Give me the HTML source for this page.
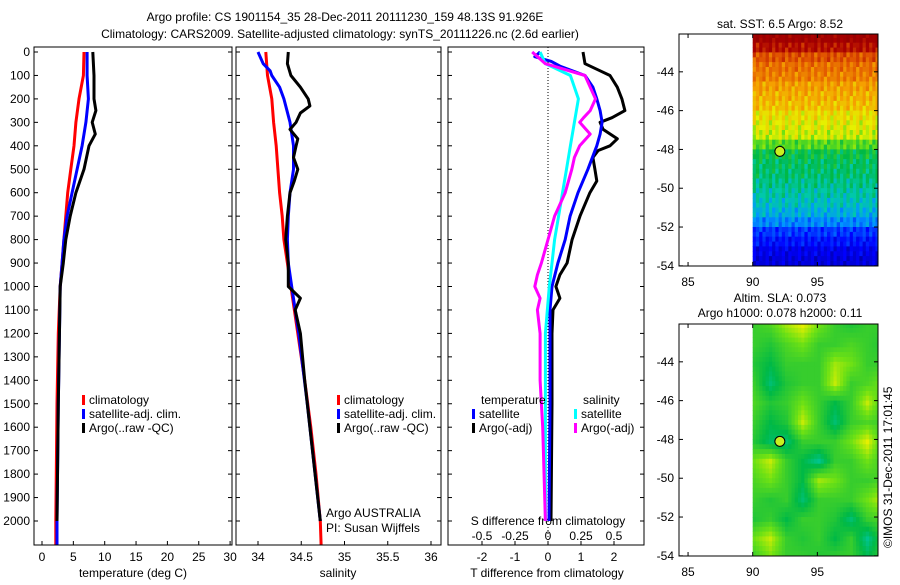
<!DOCTYPE html>
<html><head><meta charset="utf-8"><style>
body{margin:0;background:#fff}
svg text{font-family:"Liberation Sans",sans-serif;font-size:12px;fill:#000}
</style></head><body>
<svg id="s" width="900" height="580" viewBox="0 0 900 580"></svg>
<script>
// ---------- data ----------
const pTicks=[0,100,200,300,400,500,600,700,800,900,1000,1100,1200,1300,1400,1500,1600,1700,1800,1900,2000];
const tTicks=[0,5,10,15,20,25,30];
const sTicks=[34,34.5,35,35.5,36];
const dtTicks=[-2,-1,0,1,2];
const dsTicks=[-0.5,-0.25,0,0.25,0.5];
const dsTickLabels=["-0.5","-0.25","0","0.25","0.5"];

const climTP=[0,100,200,300,400,500,600,700,800,900,1000,1200,1500,2000,2100];
const climT=[6.7,6.6,5.9,5.4,5.1,4.6,4.1,3.8,3.5,3.2,2.9,2.6,2.4,2.2,2.2];
const satTP=[0,100,200,300,400,500,600,700,800,900,1000,1500,2000,2100];
const satT=[7.2,7.2,7.4,7.0,6.4,5.6,4.8,4.0,3.5,3.2,2.9,2.6,2.4,2.4];
const argoTP=[0,100,200,250,300,350,400,500,600,700,800,900,1000,1500,2000];
const argoT=[8.1,8.3,8.3,8.6,8.0,8.5,7.5,6.7,5.4,4.5,3.8,3.4,2.9,2.6,2.4];

const climSP=[0,100,200,300,400,500,600,700,800,900,1000,1200,1400,1600,1800,2000,2100];
const climS=[34.09,34.11,34.16,34.18,34.21,34.23,34.25,34.28,34.3,34.34,34.38,34.46,34.54,34.61,34.67,34.72,34.73];
const satSP=[0,50,80,100,150,200,300,400,500,600,700,800,900,1000,1200,1500,2000];
const satS=[34.0,34.06,34.14,34.16,34.25,34.3,34.37,34.41,34.41,34.37,34.35,34.34,34.35,34.39,34.47,34.57,34.72];
const argoSP=[0,50,100,150,200,230,260,300,330,370,400,450,500,550,600,700,800,900,1000,1050,1100,1200,1400,1600,1800,2000];
const argoS=[34.35,34.34,34.38,34.49,34.58,34.6,34.49,34.44,34.37,34.46,34.44,34.41,34.46,34.42,34.37,34.34,34.32,34.35,34.35,34.49,34.43,34.49,34.54,34.6,34.66,34.72];

const dArgoTP=[0,50,80,100,150,200,250,280,300,330,370,400,420,450,500,550,600,700,800,900,950,1000,1050,1100,1200,1500,2000];
const dArgoT=[1.06,1.12,1.58,1.88,2.1,2.24,2.33,1.94,1.58,1.67,2.1,1.88,1.52,1.36,1.42,1.48,1.27,0.97,0.73,0.58,0.36,0.24,0.36,0.15,0.12,0.12,0.09];
const dSatTP=[0,20,40,60,100,150,200,250,300,350,400,500,600,700,800,900,1000,1100,1500,2000];
const dSatT=[-0.24,-0.4,0.1,0.36,1.12,1.36,1.48,1.58,1.64,1.58,1.48,1.21,0.91,0.67,0.52,0.3,0.12,0.06,0.06,0.03];
const dSatSP=[0,50,100,150,200,300,400,500,600,700,800,900,1000,1200,2000];
const dSatS=[-0.06,-0.02,0.17,0.2,0.23,0.2,0.17,0.14,0.11,0.08,0.05,0.03,0.01,-0.02,-0.02];
const dArgoSP=[0,50,100,150,200,250,280,300,350,400,450,500,600,700,800,900,950,1000,1050,1100,1200,1400,1600,2000];
const dArgoS=[-0.12,-0.02,0.28,0.32,0.36,0.32,0.27,0.24,0.32,0.24,0.2,0.18,0.13,0.05,0,-0.05,-0.08,-0.1,-0.06,-0.08,-0.06,-0.06,-0.04,-0.02];

const lonTicks=[85,90,95];
const latTicks=[-44,-46,-48,-50,-52,-54];
const sstRows=[0.95,0.9,0.82,0.78,0.76,0.72,0.7,0.68,0.64,0.62,0.6,0.52,0.45,0.43,0.42,0.4,0.38,0.36,0.33,0.28,0.2,0.16,0.12,0.1];
const sstNoise=[0,0.03,-0.02,0.04,-0.03,0.01,0.05,-0.04,0.02,-0.01,0.03,-0.05,0.02,0];
const slaGrid=[
[.5,.52,.58,.62,.55,.5,.48,.5,.5],
[.5,.48,.52,.55,.5,.5,.52,.5,.48],
[.48,.45,.5,.5,.5,.58,.55,.5,.5],
[.5,.42,.48,.5,.5,.6,.5,.52,.55],
[.52,.48,.5,.55,.5,.45,.5,.6,.5],
[.5,.45,.48,.6,.5,.42,.5,.52,.5],
[.48,.43,.42,.5,.5,.5,.55,.62,.5],
[.55,.6,.5,.45,.4,.5,.5,.55,.5],
[.52,.55,.5,.45,.58,.55,.5,.5,.52],
[.5,.48,.5,.42,.5,.5,.5,.55,.6],
[.48,.5,.45,.5,.5,.48,.42,.5,.52],
[.55,.6,.5,.48,.5,.45,.5,.4,.5],
[.5,.55,.5,.5,.48,.5,.5,.45,.5]];
const argoPos=[92.1,-48.1];

// ---------- helpers ----------
const S=document.getElementById('s');const NS='http://www.w3.org/2000/svg';
function el(t,a,txt,parent){const e=document.createElementNS(NS,t);for(const k in a)e.setAttribute(k,a[k]);if(txt!==undefined&&txt!==null)e.textContent=txt;(parent||S).appendChild(e);return e;}
const Y=p=>52+p*0.2345;
const X1=t=>42+6.27*t, X2=s=>258+86.5*(s-34), X3T=d=>548+33*d, X3S=d=>548+132*d;
function line(ps,vs,xf,col,name,w){const pts=ps.map((p,i)=>xf(vs[i]).toFixed(1)+','+Y(p).toFixed(1)).join(' ');
 const e=el('polyline',{points:pts,fill:'none',stroke:col,'stroke-width':w||3,'stroke-linejoin':'round'});
 
 }
function txt(x,y,s,anchor,name){const e=el('text',{x:x,y:y,'text-anchor':anchor||'start'},s);
 
 return e;}

txt(345,21,'Argo profile: CS 1901154_35 28-Dec-2011 20111230_159 48.13S 91.926E','middle','title-line-1');
txt(340,38,'Climatology: CARS2009. Satellite-adjusted climatology: synTS_20111226.nc (2.6d earlier)','middle','title-line-2');

const panels=[[34,232],[236,441],[448,644]];
panels.forEach((p,i)=>{const r=el('rect',{x:p[0],y:47,width:p[1]-p[0],height:498,fill:'none',stroke:'#000'});
 
 
 pTicks.forEach(t=>{el('line',{x1:p[0],x2:p[0]+4,y1:Y(t),y2:Y(t),stroke:'#000'});el('line',{x1:p[1],x2:p[1]-4,y1:Y(t),y2:Y(t),stroke:'#000'});});});
pTicks.forEach(t=>txt(30,Y(t)+4,String(t),'end','y-tick-label'));
tTicks.forEach(t=>{el('line',{x1:X1(t),x2:X1(t),y1:545,y2:541,stroke:'#000'});txt(X1(t),561,String(t),'middle','temp-x-tick');});
sTicks.forEach(t=>{el('line',{x1:X2(t),x2:X2(t),y1:545,y2:541,stroke:'#000'});txt(X2(t),561,String(t),'middle','sal-x-tick');});
dtTicks.forEach(t=>{el('line',{x1:X3T(t),x2:X3T(t),y1:545,y2:541,stroke:'#000'});txt(X3T(t),561,String(t),'middle','dt-x-tick');});
dsTicks.forEach((t,i)=>txt(X3S(t),540,dsTickLabels[i],'middle','ds-tick'));
txt(133,577,'temperature (deg C)','middle','x-axis-title-temperature');
txt(338,577,'salinity','middle','x-axis-title-salinity');
txt(547,577,'T difference from climatology','middle','x-axis-title-tdiff');
txt(548,525,'S difference from climatology','middle','x-axis-title-sdiff');
el('line',{x1:548,x2:548,y1:47,y2:545,stroke:'#000','stroke-dasharray':'1,2'});

line(climTP,climT,X1,'#f00','clim-temp-line');
line(satTP,satT,X1,'#00f','sat-temp-line');
line(argoTP,argoT,X1,'#000','argo-temp-line');
line(climSP,climS,X2,'#f00','clim-sal-line');
line(satSP,satS,X2,'#00f','sat-sal-line');
line(argoSP,argoS,X2,'#000','argo-sal-line');
line(dArgoTP,dArgoT,X3T,'#000','argo-tdiff-line');
line(dSatTP,dSatT,X3T,'#00f','sat-tdiff-line');
line(dSatSP,dSatS,X3S,'#0ff','sat-sdiff-line');
line(dArgoSP,dArgoS,X3S,'#f0f','argo-sdiff-line');

function leg(x,y,col,s,name){const r=el('rect',{x:x,y:y-9,width:3,height:10,fill:col});
 
 
 txt(x+7,y,s,'start',name);}
leg(82,404,'#f00','climatology','legend-climatology');
leg(82,418,'#00f','satellite-adj. clim.','legend-satellite');
leg(82,432,'#000','Argo(..raw -QC)','legend-argo');
leg(337,404,'#f00','climatology','legend-climatology-2');
leg(337,418,'#00f','satellite-adj. clim.','legend-satellite-2');
leg(337,432,'#000','Argo(..raw -QC)','legend-argo-2');
txt(481,404,'temperature','start','legend-temperature-header');
leg(472,418,'#00f','satellite','legend-t-satellite');
leg(472,432,'#000','Argo(-adj)','legend-t-argo');
txt(583,404,'salinity','start','legend-salinity-header');
leg(574,418,'#0ff','satellite','legend-s-satellite');
leg(574,432,'#f0f','Argo(-adj)','legend-s-argo');
txt(326,517,'Argo AUSTRALIA','start','argo-country');
txt(326,532,'PI: Susan Wijffels','start','argo-pi');

// colormap
const cmStops=[[0,[0,0,140]],[0.15,[0,0,255]],[0.3,[0,150,255]],[0.38,[0,200,170]],[0.45,[0,185,70]],[0.55,[110,225,20]],[0.62,[230,240,0]],[0.72,[245,160,0]],[0.82,[225,85,0]],[0.92,[170,0,0]],[1,[150,0,0]]];
function cmap(v){v=Math.max(0,Math.min(1,v));for(let i=1;i<cmStops.length;i++){if(v<=cmStops[i][0]){const a=cmStops[i-1],b=cmStops[i],t=(v-a[0])/(b[0]-a[0]);
 return 'rgb('+a[1].map((c,k)=>Math.round(c+(b[1][k]-c)*t)).join(',')+')';}}return 'rgb(150,0,0)';}
let clipN=0;
function mapAxes(top,name){
 const LX=lon=>679+(lon-84.3)*12.93, LY=lat=>top+(-42.05-lat)*19.4;
 const id='clip'+(clipN++);
 const cp=el('clipPath',{id:id});el('rect',{x:679,y:top,width:199,height:232},null,cp);
 const g=el('g',{'clip-path':'url(#'+id+')'});
 
 
 return {LX,LY,g,finish(){
  el('rect',{x:679,y:top,width:199,height:232,fill:'none',stroke:'#000'});
  lonTicks.forEach(l=>{el('line',{x1:LX(l),x2:LX(l),y1:top+232,y2:top+228,stroke:'#000'});el('line',{x1:LX(l),x2:LX(l),y1:top,y2:top+4,stroke:'#000'});txt(LX(l),top+252,String(l),'middle','map-lon-tick');});
  latTicks.forEach(l=>{el('line',{x1:679,x2:683,y1:LY(l),y2:LY(l),stroke:'#000'});el('line',{x1:878,x2:874,y1:LY(l),y2:LY(l),stroke:'#000'});txt(674,LY(l)+4,String(l),'end','map-lat-tick');});
  const c=el('circle',{cx:LX(argoPos[0]),cy:LY(argoPos[1]),r:5,fill:'#c8f020',stroke:'#000'});
  
  
 }};}
txt(780,28,'sat. SST: 6.5 Argo: 8.52','middle','sst-map-title');
const m1=mapAxes(34,'sst-map');
for(let i=0;i<sstRows.length*2;i++){const lat=-42-i*0.25;const base=sstRows[Math.floor(i/2)];
 for(let j=0;j<40;j++){const lon=90+j*0.25;const v=base+sstNoise[(j+i*5)%sstNoise.length];
  el('rect',{x:m1.LX(lon).toFixed(1),y:m1.LY(lat).toFixed(1),width:3.8,height:5.3,fill:cmap(v)},null,m1.g);}}
m1.finish();
txt(780,302,'Altim. SLA: 0.073','middle','sla-map-title-1');
txt(780,317,'Argo h1000: 0.078 h2000: 0.11','middle','sla-map-title-2');
const m2=mapAxes(324,'sla-map');
for(let i=0;i<48;i++){const lat=-42-i*0.25;const fr=i/4, r0=Math.min(11,Math.floor(fr)), tr=fr-r0;
 for(let j=0;j<40;j++){const lon=90+j*0.25;const fc=j*0.25/1.25, c0=Math.min(7,Math.floor(fc)), tc=fc-c0;
  const g=slaGrid;const v=(g[r0][c0]*(1-tc)+g[r0][c0+1]*tc)*(1-tr)+(g[r0+1][c0]*(1-tc)+g[r0+1][c0+1]*tc)*tr;
  el('rect',{x:m2.LX(lon).toFixed(1),y:m2.LY(lat).toFixed(1),width:3.8,height:5.3,fill:cmap(v)},null,m2.g);}}
m2.finish();
const cp=el('text',{x:0,y:0,transform:'translate(892,548) rotate(-90)'},'©IMOS 31-Dec-2011 17:01:45');


</script>
</body></html>
